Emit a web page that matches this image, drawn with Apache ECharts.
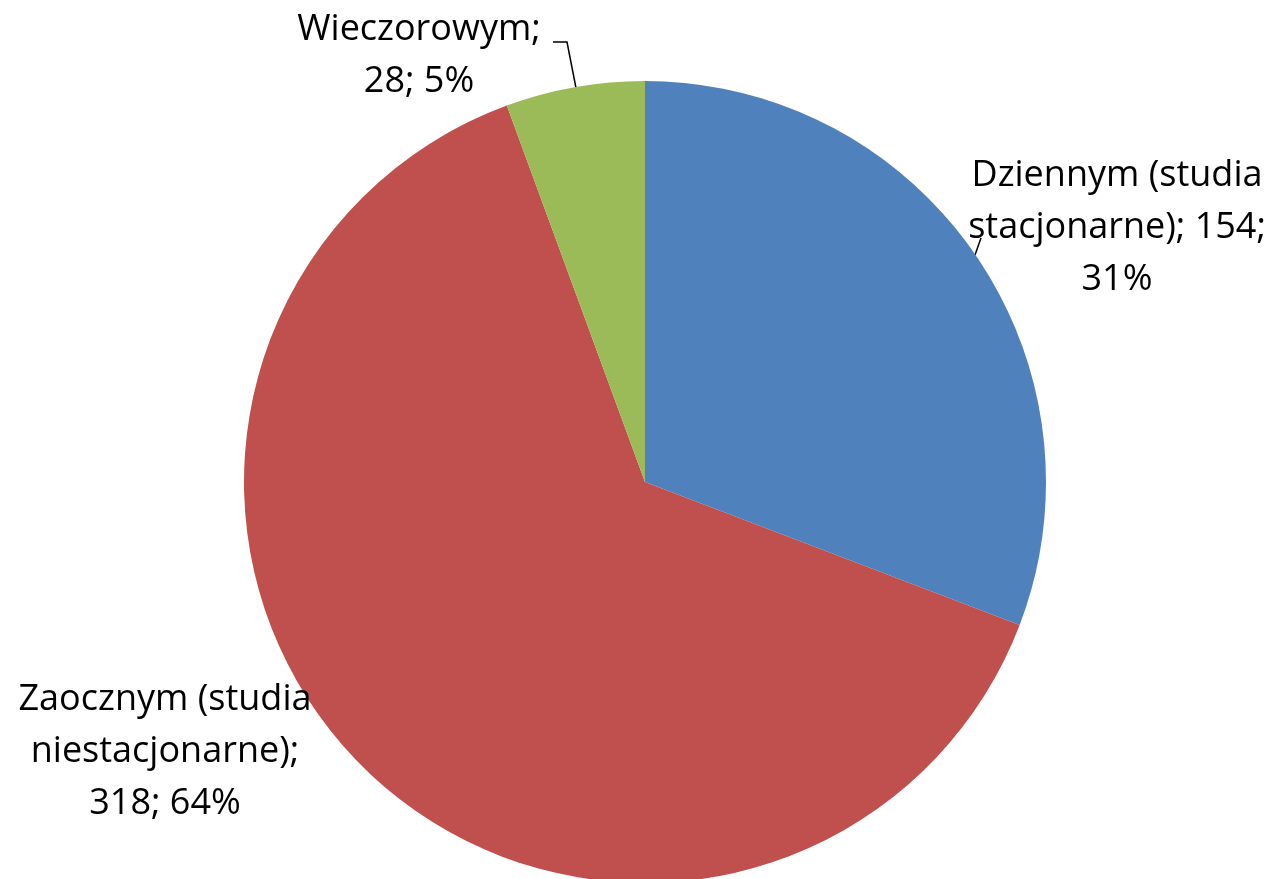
<!DOCTYPE html>
<html>
<head>
<meta charset="utf-8">
<script src="https://cdn.jsdelivr.net/npm/echarts@6/dist/echarts.min.js"></script>
<style>
html, body { margin: 0; padding: 0; background: #fff; }
#chart { width: 1280px; height: 879px; }
</style>
</head>
<body>
<div id="chart"></div>
<script>
// dane
var categories = ['Dziennym (studia\nstacjonarne)', 'Zaocznym (studia\nniestacjonarne)', 'Wieczorowym'];
var values = [154, 318, 28];
var colors = ['#4F81BD', '#C0504D', '#9BBB59'];

// pozycje etykiet (srodek bloku tekstu) i linie odniesienia
var labelPos = [[1117, 228], [165, 752], [419, 56]];
var linePts = [
    [[975, 255], [981, 238]],
    null,
    [[576, 88], [567, 42], [553, 42]]
];

var seriesData = [];
for (var i = 0; i < values.length; i++) {
    seriesData.push({
        name: categories[i],
        value: values[i],
        itemStyle: { color: colors[i] },
        labelLine: { show: linePts[i] !== null }
    });
}

var chart = echarts.init(document.getElementById('chart'));
chart.setOption({
    backgroundColor: '#fff',
    animation: false,
    series: [{
        type: 'pie',
        center: [645, 482],
        radius: 401,
        startAngle: 90,
        clockwise: true,
        percentPrecision: 0,
        data: seriesData,
        label: {
            show: true,
            position: 'outside',
            color: '#000',
            fontFamily: 'Open Sans',
            fontSize: 36,
            lineHeight: 52,
            align: 'center',
            overflow: 'none',
            formatter: function (p) {
                if (p.dataIndex === 0) {
                    return p.name + '; ' + p.value + ';\n' + p.percent + '%';
                }
                return p.name + ';\n' + p.value + '; ' + p.percent + '%';
            }
        },
        labelLine: {
            lineStyle: { color: '#000', width: 1.5 }
        },
        labelLayout: function (params) {
            var idx = params.dataIndex;
            var res = {
                x: labelPos[idx][0],
                y: labelPos[idx][1],
                align: 'center',
                verticalAlign: 'middle',
                fontSize: 36
            };
            if (linePts[idx]) {
                res.labelLinePoints = linePts[idx];
            }
            return res;
        }
    }]
});
</script>
</body>
</html>
